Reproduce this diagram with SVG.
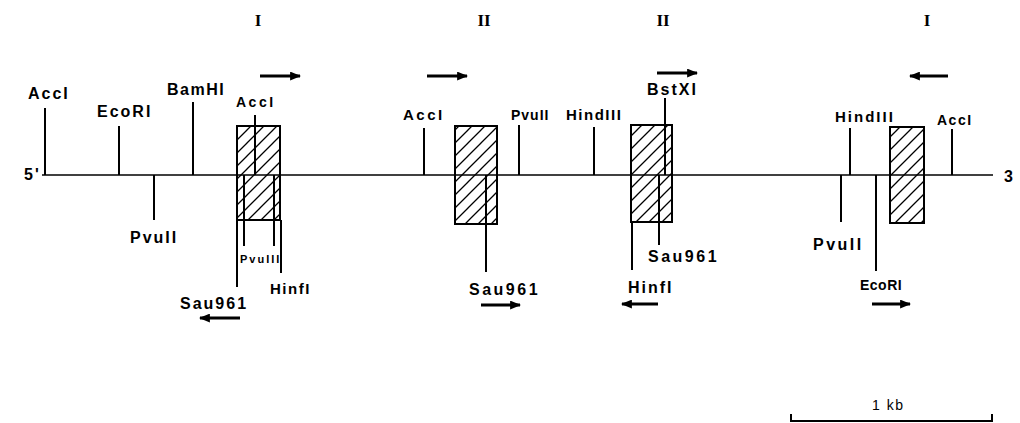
<svg xmlns="http://www.w3.org/2000/svg" width="1020" height="423" viewBox="0 0 1020 423">
<defs>
<pattern id="hatch" patternUnits="userSpaceOnUse" width="13" height="13">
<path d="M-1,1 L1,-1 M0,13 L13,0 M12,14 L14,12" stroke="#000" stroke-width="1.3"/>
</pattern>
<marker id="ah" viewBox="0 0 10 8" refX="9" refY="4" markerWidth="11" markerHeight="9" markerUnits="userSpaceOnUse" orient="auto">
<path d="M0,0 L10,4 L0,8 Z" fill="#000"/>
</marker>
</defs>
<style>
.lbl{font-family:"Liberation Sans",Arial,sans-serif;font-weight:bold;font-size:16px;letter-spacing:2px;fill:#000}
.md{font-size:15px;letter-spacing:1.5px}
.sm{font-size:14px;letter-spacing:1.5px}
.xs{font-size:11px;letter-spacing:2px}
.num{font-family:"Liberation Serif","Times New Roman",serif;font-weight:bold;font-size:17px;fill:#000}
.tick{stroke:#000;stroke-width:2;fill:none}
.base{stroke:#000;stroke-width:1.5;fill:none}
.box{fill:url(#hatch);stroke:#000;stroke-width:2}
.arr{stroke:#000;stroke-width:3;fill:none;marker-end:url(#ah)}
</style>
<rect width="1020" height="423" fill="#fff"/>
<g id="numerals">
<text class="num" x="258" y="26" text-anchor="middle">I</text>
<text class="num" x="484" y="26" text-anchor="middle">II</text>
<text class="num" x="663" y="26" text-anchor="middle">II</text>
<text class="num" x="927" y="26" text-anchor="middle">I</text>
</g>
<g id="dna">
<line class="base" x1="42" y1="175" x2="993" y2="175"/>
<text class="lbl" x="24" y="180">5'</text>
<text class="lbl" x="1004" y="182">3</text>
</g>
<g id="exon1">
<rect class="box" x="237" y="126" width="43" height="94"/>
</g>
<g id="exon2">
<rect class="box" x="455" y="126" width="42" height="98"/>
</g>
<g id="exon3">
<rect class="box" x="631" y="125" width="41" height="97"/>
</g>
<g id="exon4">
<rect class="box" x="890" y="127" width="34" height="96"/>
</g>
<g id="sites">
<line class="tick" x1="45" y1="108" x2="45" y2="175"/>
<text class="lbl" x="28" y="99">AccI</text>
<line class="tick" x1="119" y1="126" x2="119" y2="175"/>
<text class="lbl" x="97" y="117">EcoRI</text>
<line class="tick" x1="154" y1="175" x2="154" y2="220"/>
<text class="lbl" x="130" y="243">PvuII</text>
<line class="tick" x1="193" y1="102" x2="193" y2="175"/>
<text class="lbl" x="167" y="95" style="letter-spacing:1.5px">BamHI</text>
<line class="tick" x1="255" y1="115" x2="255" y2="175"/>
<text class="lbl sm" x="236" y="107" style="letter-spacing:2.5px">AccI</text>
<line class="tick" x1="244" y1="175" x2="244" y2="246"/>
<line class="tick" x1="274" y1="175" x2="274" y2="246"/>
<text class="lbl xs" x="240" y="263">PvuIII</text>
<line class="tick" x1="237" y1="220" x2="237" y2="287"/>
<text class="lbl" x="180" y="309">Sau961</text>
<line class="tick" x1="281" y1="220" x2="281" y2="273"/>
<text class="lbl md" x="270" y="294">HinfI</text>
<line class="tick" x1="424" y1="128" x2="424" y2="175"/>
<text class="lbl md" x="403" y="120" style="letter-spacing:2.5px">AccI</text>
<line class="tick" x1="486" y1="175" x2="486" y2="272"/>
<text class="lbl" x="469" y="295" style="letter-spacing:2.5px">Sau961</text>
<line class="tick" x1="519" y1="125" x2="519" y2="175"/>
<text class="lbl sm" x="511" y="120" style="letter-spacing:1px">PvuII</text>
<line class="tick" x1="594" y1="127" x2="594" y2="175"/>
<text class="lbl md" x="566" y="120">HindIII</text>
<line class="tick" x1="665" y1="98" x2="665" y2="175"/>
<text class="lbl" x="647" y="95">BstXI</text>
<line class="tick" x1="659" y1="175" x2="659" y2="245"/>
<text class="lbl" x="648" y="262" style="letter-spacing:2.5px">Sau961</text>
<line class="tick" x1="632" y1="222" x2="632" y2="270"/>
<text class="lbl" x="628" y="293">HinfI</text>
<line class="tick" x1="850" y1="128" x2="850" y2="175"/>
<text class="lbl md" x="835" y="122" style="letter-spacing:2px">HindIII</text>
<line class="tick" x1="952" y1="129" x2="952" y2="175"/>
<text class="lbl sm" x="937" y="125">AccI</text>
<line class="tick" x1="841" y1="175" x2="841" y2="222"/>
<text class="lbl" x="813" y="250" style="letter-spacing:2.5px">PvuII</text>
<line class="tick" x1="876" y1="175" x2="876" y2="271"/>
<text class="lbl sm" x="860" y="290" style="letter-spacing:0.5px">EcoRI</text>
</g>
<g id="connectors">
<line class="arr" x1="260" y1="76" x2="300" y2="76"/>
<line class="arr" x1="427" y1="76" x2="467" y2="76"/>
<line class="arr" x1="657" y1="73" x2="697" y2="73"/>
<line class="arr" x1="948" y1="76" x2="910" y2="76"/>
<line class="arr" x1="240" y1="318" x2="200" y2="318"/>
<line class="arr" x1="481" y1="305" x2="520" y2="305"/>
<line class="arr" x1="658" y1="304" x2="622" y2="304"/>
<line class="arr" x1="872" y1="304" x2="910" y2="304"/>
</g>
<g id="scalebar">
<text class="lbl sm" x="872" y="410" style="font-weight:normal">1 kb</text>
<path d="M791,414 L791,421 L992,421 L992,414" fill="none" stroke="#000" stroke-width="2"/>
</g>
</svg>
